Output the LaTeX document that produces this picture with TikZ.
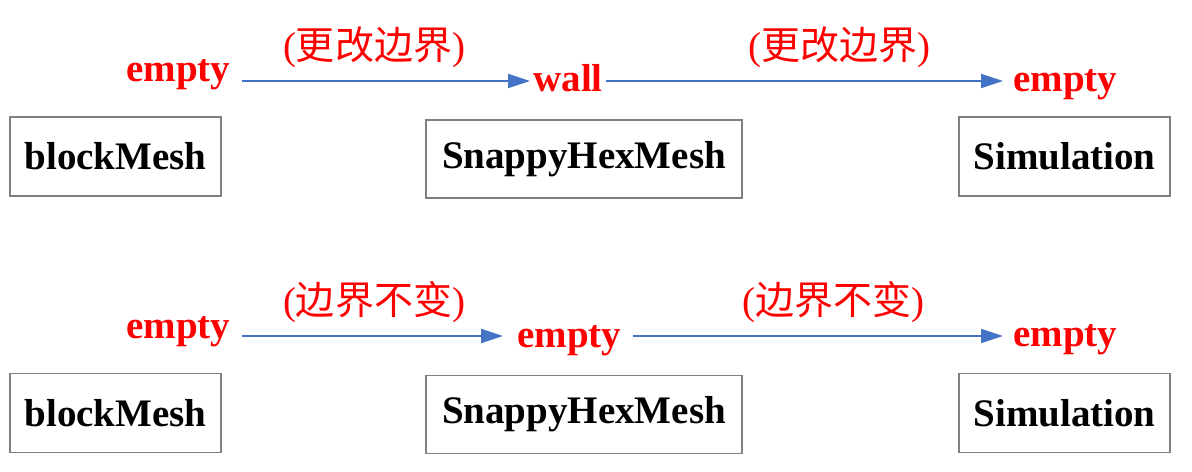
\documentclass[tikz,border=0pt]{standalone}
\usepackage{fontspec}
\setmainfont{Liberation Serif}
\newfontfamily\cjk{Noto Sans CJK SC}
\usepackage{tikz}
\usetikzlibrary{positioning,arrows.meta}

\definecolor{flowblue}{RGB}{68,114,196}
\definecolor{boxgray}{RGB}{128,128,128}

\begin{document}
\begin{tikzpicture}[
    x=0.02cm, y=-0.02cm,
    box/.style={rectangle, draw=boxgray, line width=0.03cm, minimum width=4.22cm, minimum height=1.58cm, inner sep=0pt, align=center, font=\fontsize{22.2}{26}\selectfont\bfseries},
    wide/.style={minimum width=6.32cm, minimum height=1.56cm},
    tag/.style={text=red, inner sep=0pt, anchor=base west, font=\fontsize{22.2}{26}\selectfont\bfseries},
    note/.style={text=red, inner sep=0pt, font=\fontsize{22.2}{26}\selectfont},
    flow/.style={draw=flowblue, line width=0.04cm, -{Triangle[length=0.44cm, width=0.28cm]}},
]
\useasboundingbox (0,0) rectangle (1192,472);

% Top row: boundary changed
\node[box] (block1) at (115.5,156.5) {blockMesh};
\node[box, wide] (snappy1) at (584,159) {SnappyHexMesh};
\node[box] (sim1) at (1064.5,156.5) {Simulation};

\node[tag] (tagA1) at (126,82) {empty};
\node[tag] (tagB1) at (533,92) {wall};
\node[tag] (tagC1) at (1013,92) {empty};

\node[note] (noteA1) at (374,47) {({\cjk 更改边界})};
\node[note] (noteB1) at (839,47) {({\cjk 更改边界})};

% Bottom row: boundary kept
\node[box, below=3.52cm of block1] (block2) {blockMesh};
\node[box, wide, below=3.52cm of snappy1] (snappy2) {SnappyHexMesh};
\node[box, below=3.52cm of sim1] (sim2) {Simulation};

\node[tag] (tagA2) at (126,339) {empty};
\node[tag] (tagB2) at (517,348) {empty};
\node[tag] (tagC2) at (1013,347) {empty};

\node[note] (noteA2) at (374,302) {({\cjk 边界不变})};
\node[note] (noteB2) at (833,302) {({\cjk 边界不变})};

% Arrows
\draw[flow, shorten <=0.22cm, shorten >=0.06cm] ([yshift=0.02cm]tagA1.base east) -- ([yshift=0.02cm]tagA1.base east -| tagB1.west);
\draw[flow, shorten <=0.06cm, shorten >=0.2cm] ([yshift=0.22cm]tagB1.base east) -- ([yshift=0.22cm]tagB1.base east -| tagC1.west);
\draw[flow, shorten <=0.22cm, shorten >=0.28cm] ([yshift=0.06cm]tagA2.base east) -- ([yshift=0.06cm]tagA2.base east -| tagB2.west);
\draw[flow, shorten <=0.22cm, shorten >=0.2cm] ([yshift=0.24cm]tagB2.base east) -- ([yshift=0.24cm]tagB2.base east -| tagC2.west);

\end{tikzpicture}
\end{document}
